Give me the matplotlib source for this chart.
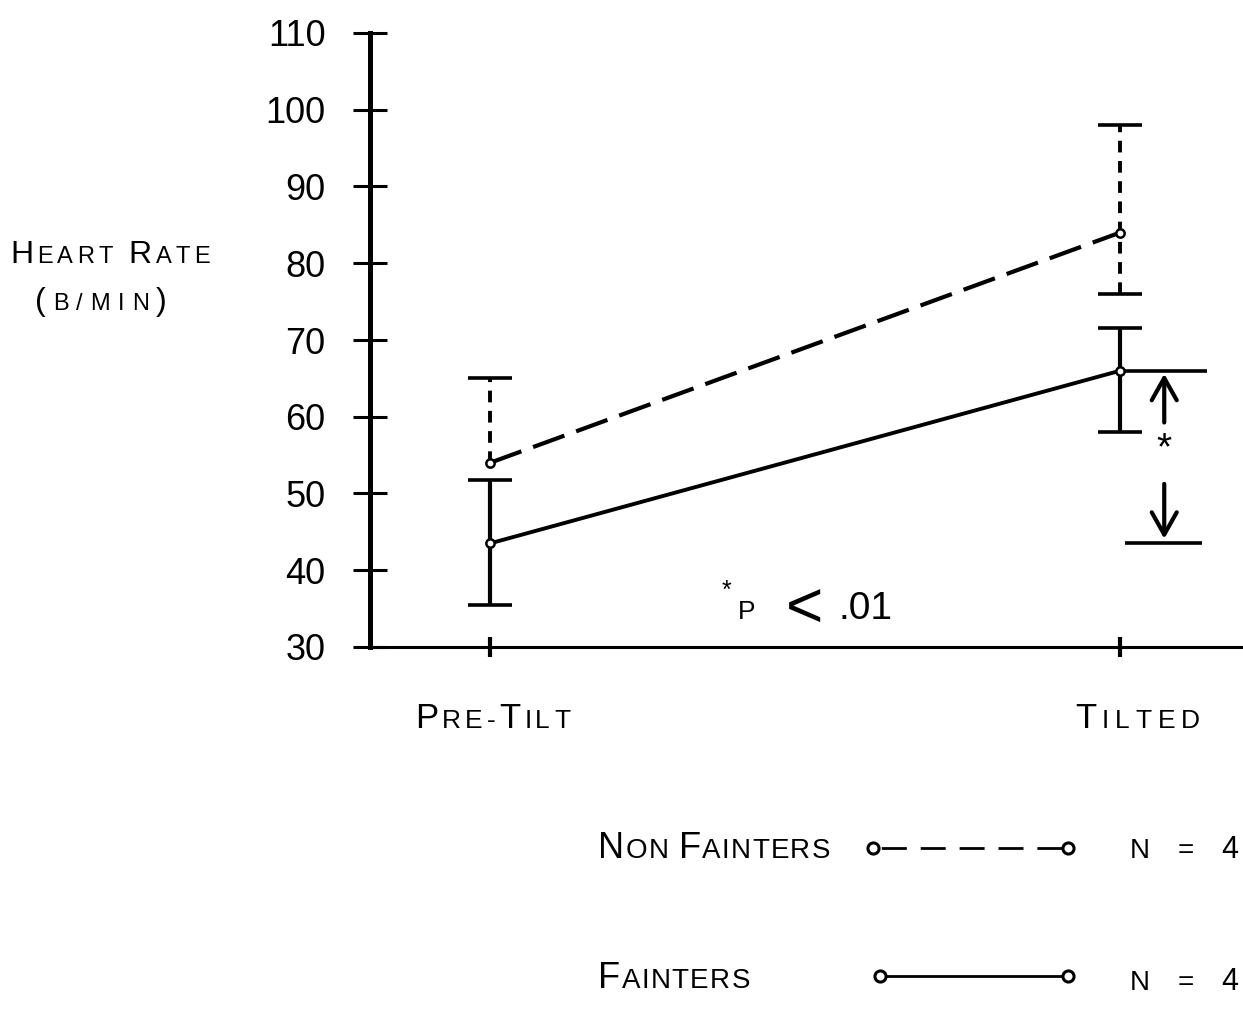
import matplotlib
matplotlib.use('Agg')
import matplotlib.pyplot as plt
from matplotlib.lines import Line2D
from matplotlib.transforms import IdentityTransform

# heart rate (b/min) for the two groups, before and during tilt
conditions = ['PRE-TILT', 'TILTED']
nf_mean = [54, 84]        # non fainters
nf_low = [54, 76]
nf_high = [65, 98]
f_mean = [43.5, 66]       # fainters
f_low = [35.5, 58]
f_high = [51.8, 71.6]
y_ticks = [30, 40, 50, 60, 70, 80, 90, 100, 110]
group_n = [4, 4]

FONT = 'Liberation Sans'
W, H = 1243, 1009

fig = plt.figure(figsize=(W / 100, H / 100), dpi=100)
renderer = fig.canvas.get_renderer()

ax = fig.add_axes([370 / W, 1 - 647 / H, 1 - 370 / W, (647 - 33) / H])
ax.set_xlim(-0.1905, 1.195)
ax.set_ylim(30, 110)
x = list(range(len(conditions)))


def char_items(runs):
    items = []
    for text, size in runs:
        for ch in text:
            if ch == ' ':
                items.append((ch, size, size * 0.28 * 100 / 72))
            else:
                t = fig.text(0, 0, ch, fontsize=size, family=FONT)
                items.append((ch, size, t.get_window_extent(renderer).width))
                t.remove()
    return items


def small_caps(x0, x1, base, runs):
    """Lay out characters between x0 and x1 (px from left) on a baseline (px from top)."""
    items = char_items(runs)
    total = sum(w for _, _, w in items)
    gap = (x1 - x0 - total) / max(len(items) - 1, 1)
    xp = x0
    for ch, size, w in items:
        if ch != ' ':
            fig.text(xp, H - base, ch, fontsize=size, family=FONT,
                     transform=IdentityTransform(), ha='left', va='baseline')
        xp += w + gap


# ---- error bars ---------------------------------------------------------
cap = 0.035
for xi, m, lo, hi in zip(x, nf_mean, nf_low, nf_high):
    ax.vlines(xi, lo, hi, color='black', lw=2.8, linestyles=(0, (3, 2.2)), zorder=2)
    ax.hlines(hi, xi - cap, xi + cap, color='black', lw=2.6)
    if lo < m:
        ax.hlines(lo, xi - cap, xi + cap, color='black', lw=2.6)
for xi, m, lo, hi in zip(x, f_mean, f_low, f_high):
    ax.vlines(xi, lo, hi, color='black', lw=3, zorder=2)
    ax.hlines([lo, hi], xi - cap, xi + cap, color='black', lw=2.6)

# ---- group means --------------------------------------------------------
ax.plot(x, nf_mean, color='black', lw=3, dashes=(8, 3), marker='o', ms=6,
        mfc='white', mec='black', mew=1.8, zorder=3)
ax.plot(x, f_mean, color='black', lw=2.8, marker='o', ms=6,
        mfc='white', mec='black', mew=1.8, zorder=3)

# ---- significance between fainters' pre-tilt and tilted means ----------
sx = 1.07
mid = (f_mean[0] + f_mean[1]) / 2
ax.hlines(f_mean[1], 1.008, 1.138, color='black', lw=2.6)
ax.hlines(f_mean[0], 1.008, 1.13, color='black', lw=2.6)
arrow = dict(arrowstyle='->,head_length=0.8,head_width=0.45', lw=3,
             mutation_scale=20, color='black', shrinkA=0, shrinkB=0)
ax.annotate('', xy=(sx, f_mean[1] - 0.4), xytext=(sx, mid + 4.5), arrowprops=arrow)
ax.annotate('', xy=(sx, f_mean[0] + 0.6), xytext=(sx, mid - 3.5), arrowprops=arrow)
ax.text(sx, mid + 1, '*', ha='center', va='center', fontsize=28, family=FONT)

# ---- axes ---------------------------------------------------------------
for side in ('top', 'right'):
    ax.spines[side].set_visible(False)
ax.spines['left'].set_linewidth(3.6)
ax.spines['bottom'].set_linewidth(2.2)
ax.set_yticks(y_ticks)
ax.set_yticklabels([str(v) for v in y_ticks], fontsize=26, family=FONT)
ax.tick_params(axis='y', direction='inout', length=24, width=2.2, pad=20)
ax.set_xticks(x)
ax.tick_params(axis='x', direction='inout', length=14, width=3, labelbottom=False)

# ---- text ---------------------------------------------------------------
small_caps(10, 210, 263, [('H', 23), ('EART', 17), (' ', 17), ('R', 23), ('ATE', 17)])
small_caps(35, 167, 310, [('(', 23), ('B/MIN', 17), (')', 23)])
small_caps(415, 570, 728, [('P', 25), ('RE-', 19), ('T', 25), ('ILT', 19)])
small_caps(1075, 1200, 728, [('T', 25), ('ILTED', 19)])

fig.text(722, H - 598, '*', fontsize=18, family=FONT, transform=IdentityTransform())
fig.text(738, H - 619, 'P', fontsize=19, family=FONT, transform=IdentityTransform())
fig.text(786, H - 628, '<', fontsize=46, family=FONT, transform=IdentityTransform())
fig.text(838, H - 619, '.01', fontsize=28, family=FONT, transform=IdentityTransform())

# ---- legend -------------------------------------------------------------
small_caps(598, 830, 858, [('N', 26), ('ON', 20), (' ', 20), ('F', 26), ('AINTERS', 20)])
small_caps(598, 750, 988, [('F', 26), ('AINTERS', 20)])
small_caps(1130, 1238, 858, [('N', 20), (' = ', 20), (str(group_n[0]), 22)])
small_caps(1130, 1238, 990, [('N', 20), (' = ', 20), (str(group_n[1]), 22)])

fig.add_artist(Line2D([873 / W, 1068 / W], [1 - 848 / H] * 2, transform=fig.transFigure,
                      color='black', lw=2, linestyle=(11, (9, 5)), marker='o', ms=8,
                      mfc='white', mec='black', mew=2.2))
fig.add_artist(Line2D([880 / W, 1068 / W], [1 - 976 / H] * 2, transform=fig.transFigure,
                      color='black', lw=2, marker='o', ms=8,
                      mfc='white', mec='black', mew=2.2))

fig.savefig('out.png', dpi=100)
